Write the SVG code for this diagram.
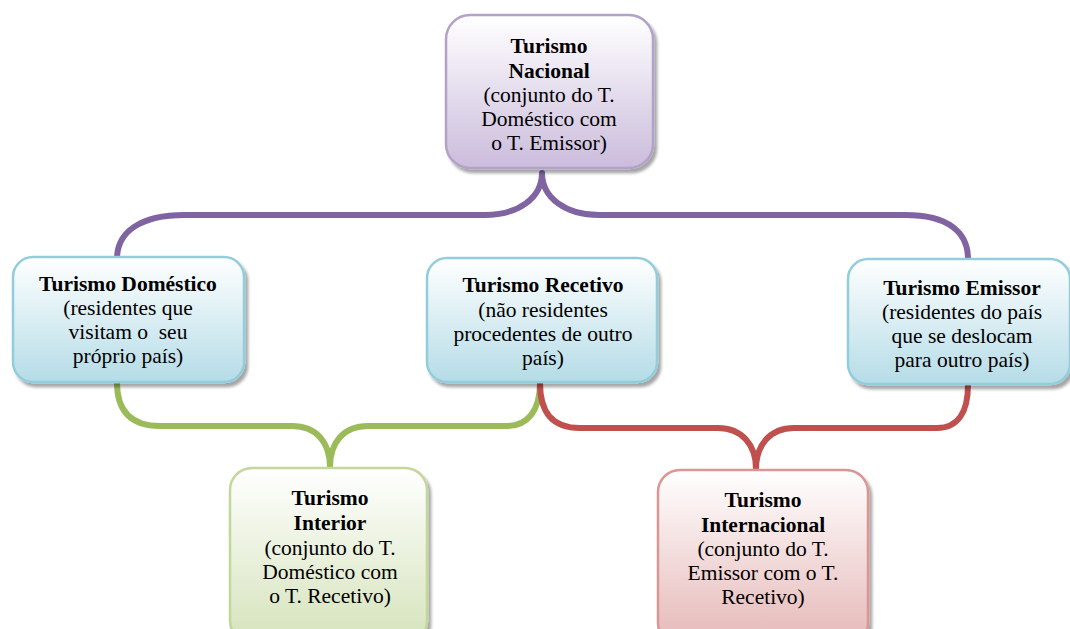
<svg xmlns="http://www.w3.org/2000/svg" width="1070" height="629" viewBox="0 0 1070 629">
<defs>
<linearGradient id="gP" x1="0" y1="0" x2="0" y2="1"><stop offset="0" stop-color="#ffffff"/><stop offset="1" stop-color="#cbbcdc"/></linearGradient>
<linearGradient id="gB" x1="0" y1="0" x2="0" y2="1"><stop offset="0" stop-color="#ffffff"/><stop offset="1" stop-color="#b5dce7"/></linearGradient>
<linearGradient id="gG" x1="0" y1="0" x2="0" y2="1"><stop offset="0" stop-color="#ffffff"/><stop offset="1" stop-color="#d5e3bb"/></linearGradient>
<linearGradient id="gR" x1="0" y1="0" x2="0" y2="1"><stop offset="0" stop-color="#ffffff"/><stop offset="1" stop-color="#e5b8b7"/></linearGradient>
<filter id="sh" x="-10%" y="-10%" width="125%" height="130%"><feDropShadow dx="3" dy="4" stdDeviation="1.5" flood-color="#000" flood-opacity="0.35"/></filter>
</defs>
<style>
.con{fill:none;stroke-width:6;stroke-linecap:round;stroke-linejoin:round}
.box{stroke-width:2.5;filter:url(#sh)}
text{font-family:"Liberation Serif","Times New Roman",serif;font-size:21.5px;fill:#000;text-anchor:middle}
.b{font-weight:bold}
</style>
<rect width="1070" height="629" fill="#ffffff"/>
<g id="connectors">
<path class="con" stroke="#8064a2" d="M117,259 C117,232 140,215 185,215 L485,215 C518,215 542,198 542,173 C542,198 566,215 599,215 L905,215 C948,215 968,232 968,259"/>
<path class="con" stroke="#9bbb59" d="M117,383 C117,410 130,426 160,426 L292,426 C316,426 330,442 330,467 C330,442 344,426 368,426 L507,426 C528,426 540,410 540,383"/>
<path class="con" stroke="#c0504d" d="M540,383 C540,412 552,428 580,428 L718,428 C742,428 756,445 756,469 C756,445 770,428 794,428 L937,428 C958,428 968,412 968,385"/>
</g>
<g id="nacional">
<rect class="box" x="446" y="15" width="207" height="153" rx="24" fill="url(#gP)" stroke="#b3a2c7"/>
<text class="b" x="549" y="53">Turismo</text>
<text class="b" x="549" y="77.5">Nacional</text>
<text x="549" y="102">(conjunto do T.</text>
<text x="549" y="126">Doméstico com</text>
<text x="549" y="150">o T. Emissor)</text>
</g>
<g id="domestico">
<rect class="box" x="13" y="257" width="231" height="125" rx="20" fill="url(#gB)" stroke="#92cddc"/>
<text class="b" x="128" y="291">Turismo Doméstico</text>
<text x="128" y="315">(residentes que</text>
<text x="128" y="339">visitam o&#160; seu</text>
<text x="128" y="363">próprio país)</text>
</g>
<g id="recetivo">
<rect class="box" x="427" y="258" width="230" height="124" rx="20" fill="url(#gB)" stroke="#92cddc"/>
<text class="b" x="543" y="292">Turismo Recetivo</text>
<text x="543" y="317">(não residentes</text>
<text x="543" y="341">procedentes de outro</text>
<text x="543" y="365">país)</text>
</g>
<g id="emissor">
<rect class="box" x="848" y="259" width="222" height="125" rx="20" fill="url(#gB)" stroke="#92cddc"/>
<text class="b" x="962" y="295">Turismo Emissor</text>
<text x="962" y="319">(residentes do país</text>
<text x="962" y="343">que se deslocam</text>
<text x="962" y="367">para outro país)</text>
</g>
<g id="interior">
<rect class="box" x="230" y="468" width="197" height="175" rx="22" fill="url(#gG)" stroke="#c3d69b"/>
<text class="b" x="330" y="505">Turismo</text>
<text class="b" x="330" y="530">Interior</text>
<text x="330" y="555">(conjunto do T.</text>
<text x="330" y="579">Doméstico com</text>
<text x="330" y="603">o T. Recetivo)</text>
</g>
<g id="internacional">
<rect class="box" x="658" y="470" width="210" height="175" rx="22" fill="url(#gR)" stroke="#d99694"/>
<text class="b" x="763" y="507">Turismo</text>
<text class="b" x="763" y="532">Internacional</text>
<text x="763" y="556">(conjunto do T.</text>
<text x="763" y="580">Emissor com o T.</text>
<text x="763" y="604">Recetivo)</text>
</g>
</svg>
